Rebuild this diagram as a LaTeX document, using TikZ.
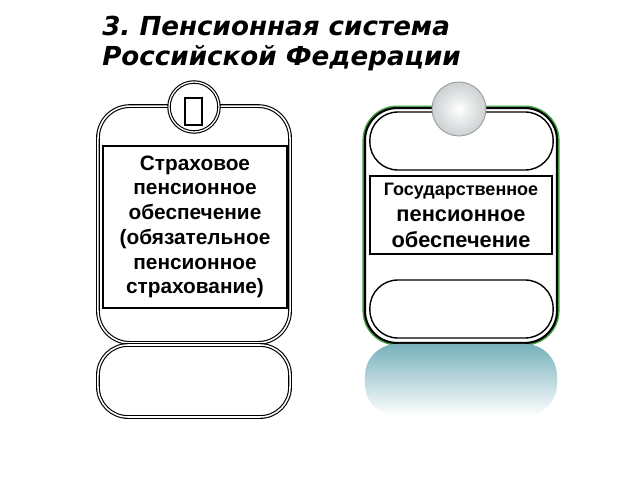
\documentclass[tikz,border=0pt]{standalone}
\usepackage{fontspec}
\setmainfont{Liberation Sans}
\newfontfamily\titlefont{DejaVu Sans}
\usetikzlibrary{shapes,positioning,shadings}
\definecolor{tealtop}{RGB}{104, 168, 180}
\definecolor{ballgray}{RGB}{222, 228, 230}
\definecolor{rimgreen}{RGB}{70, 165, 70}
\frenchspacing

\begin{document}
\begin{tikzpicture}[
    x=0.025cm, y=-0.025cm,
    card/.style={draw, double, double distance=1.1pt, line width=0.8pt, rounded corners=0.8cm, fill=white, minimum width=4.8cm, inner sep=0pt},
    greencard/.style={draw, line width=1.5pt, rounded corners=0.8cm, fill=white, minimum width=4.8cm, inner sep=0pt,
        preaction={draw=rimgreen, line width=3.6pt}},
    pill/.style={draw, line width=1pt, rounded corners=0.7cm, fill=white, inner sep=0pt},
    textbox/.style={draw, line width=0.8pt, fill=white, align=center, inner sep=0pt, font=\bfseries\fontsize{14.8}{17.6}\selectfont},
    knob/.style={circle, draw, double, double distance=0.9pt, line width=0.8pt, fill=white, minimum size=1.25cm, inner sep=0pt}
]
\useasboundingbox (0,0) rectangle (640,480);

% Title
\node[anchor=north west, align=left, inner sep=0pt, font=\titlefont\fontsize{18.6}{21.5}\selectfont\bfseries\itshape] (title) at (102,16)
    {3. Пенсионная система\\Российской Федерации};

% Left card
\node[card, minimum height=5.92cm] (leftcard) at (194,224.5) {};
\node[textbox, minimum width=4.6cm, minimum height=4.05cm] (lefttext) at (195,227)
    {Страховое\\пенсионное\\обеспечение\\(обязательное\\пенсионное\\страхование)};
\node[knob] (leftknob) at (194,107) {};
\node[draw, line width=0.9pt, minimum width=0.42cm, minimum height=0.68cm, inner sep=0pt] (leftmark) at (193.5,111.5) {};
\node[card, rounded corners=0.75cm, minimum height=1.8cm] (leftbase) at (194,381) {};

% Right card
\node[greencard, minimum height=5.87cm] (rightcard) at (461,225.5) {};
\node[pill, minimum width=4.58cm, minimum height=1.45cm] (righttop) at (461.5,141) {};
\node[textbox, minimum width=4.55cm, minimum height=1.95cm, font=\bfseries\fontsize{15.5}{18.5}\selectfont] (righttext) at (461,215)
    {{\fontsize{12.8}{18.5}\selectfont Государственное}\\
     пенсионное\\
     обеспечение};
\node[pill, minimum width=4.58cm, minimum height=1.45cm] (rightbottom) at (461.5,309) {};
\node[circle, draw=gray!80, line width=0.6pt, inner color=white, outer color=ballgray!80!gray, minimum size=1.35cm, inner sep=0pt] (rightknob) at (459,109) {};

% Reflection
\node[rounded corners=0.8cm, top color=tealtop!90!white, bottom color=white, minimum width=4.8cm, minimum height=1.8cm, inner sep=0pt] (reflect) at (461,380) {};

\end{tikzpicture}
\end{document}
